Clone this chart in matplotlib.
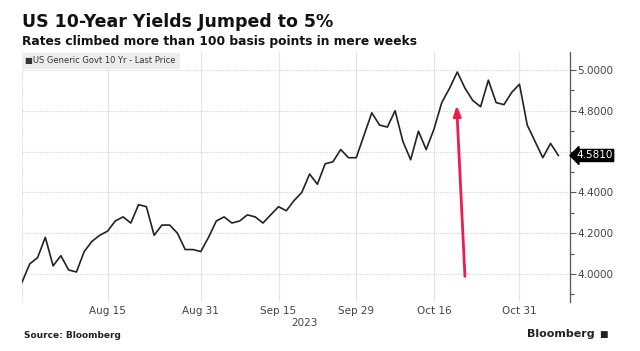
import matplotlib
matplotlib.use("Agg")
import matplotlib.pyplot as plt
from matplotlib.ticker import MultipleLocator, FixedLocator, FuncFormatter

# daily closes, trading days Jul 31 - Nov 7, 2023 (index positions)
yields = [3.96, 4.05, 4.08, 4.18, 4.04, 4.09, 4.02, 4.01, 4.11, 4.16,
          4.19, 4.21, 4.26, 4.28, 4.25, 4.34, 4.33, 4.19, 4.24, 4.24,
          4.20, 4.12, 4.12, 4.11, 4.18, 4.26, 4.28, 4.25, 4.26, 4.29,
          4.28, 4.25, 4.29, 4.33, 4.31, 4.36, 4.40, 4.49, 4.44, 4.54,
          4.55, 4.61, 4.57, 4.57, 4.68, 4.79, 4.73, 4.72, 4.80, 4.65,
          4.56, 4.70, 4.61, 4.71, 4.84, 4.91, 4.99, 4.91, 4.85, 4.82,
          4.95, 4.84, 4.83, 4.89, 4.93, 4.73, 4.65, 4.57, 4.64, 4.581]
tick_idx = [11, 23, 33, 43, 53, 64]
tick_labels = ["Aug 15", "Aug 31", "Sep 15", "Sep 29", "Oct 16", "Oct 31"]
last_value = 4.581

title = "US 10-Year Yields Jumped to 5%"
subtitle = "Rates climbed more than 100 basis points in mere weeks"
legend_label = "US Generic Govt 10 Yr - Last Price"

fig = plt.figure(figsize=(6.4, 3.51), dpi=100)
ax = fig.add_axes([22 / 640, 1 - 302 / 351, (570 - 22) / 640, 250 / 351])

x = list(range(len(yields)))
ax.plot(x, yields, color="#222222", lw=1.2, zorder=3)

ax.set_xlim(0, 70.5)
ax.set_ylim(3.863, 5.088)

# axes styling
for s in ["top", "left", "bottom"]:
    ax.spines[s].set_visible(False)
ax.spines["right"].set_color("#555555")
ax.spines["right"].set_linewidth(0.9)
ax.yaxis.tick_right()
ax.yaxis.set_major_locator(MultipleLocator(0.2))
ax.yaxis.set_minor_locator(MultipleLocator(0.1))
# the 4.6 label sits under the last-value tag
ax.yaxis.set_major_formatter(
    FuncFormatter(lambda v, p: "" if abs(v - 4.6) < 1e-6 else f"{v:.4f}"))
ax.tick_params(axis="y", which="major", length=4, width=0.8, color="#555555",
               labelsize=7.5, labelcolor="#444444", pad=1)
ax.tick_params(axis="y", which="minor", length=3, width=0.8, color="#555555")

ax.xaxis.set_major_locator(FixedLocator(tick_idx))
ax.set_xticklabels(tick_labels)
ax.tick_params(axis="x", length=0, labelsize=7.5, labelcolor="#444444", pad=3)
ax.text(36.3, -0.065, "2023", transform=ax.get_xaxis_transform(), ha="center",
        va="top", fontsize=7.5, color="#444444")

ax.grid(axis="x", color="#e4e4e4", lw=0.8)
ax.grid(axis="y", color="#d8d8d8", lw=0.8, ls=(0, (1, 1)))
ax.axvline(0, color="#d8d8d8", lw=0.8, ls=(0, (1, 1)))
ax.set_axisbelow(True)

# legend box
ax.text(0.006, 0.965, "\u25a0" + legend_label, transform=ax.transAxes,
        fontsize=6, color="#333333", va="center", ha="left", zorder=4,
        bbox=dict(boxstyle="square,pad=0.45", fc="#ececec", ec="none"))

# last value tag
ax.annotate(f"{last_value:.4f}", xy=(1.0, last_value),
            xycoords=ax.get_yaxis_transform(), xytext=(4.5, 0),
            textcoords="offset points", fontsize=7.5, color="white",
            va="center", ha="left", zorder=6, annotation_clip=False,
            bbox=dict(boxstyle="larrow,pad=0.1", fc="black", ec="black"))

# red arrow
ax.annotate("", xy=(55.9, 4.84), xytext=(57.0, 3.975),
            arrowprops=dict(arrowstyle="-|>,head_length=0.6,head_width=0.22",
                            color="#ee1c4e", lw=2.0), zorder=5)

fig.text(22 / 640, 1 - 22 / 351, title, fontsize=12.5, fontweight="bold",
         color="#111111", va="center", ha="left")
fig.text(22 / 640, 1 - 41 / 351, subtitle, fontsize=8.8, fontweight="bold",
         color="#111111", va="center", ha="left")
fig.text(24 / 640, 1 - 335 / 351, "Source: Bloomberg", fontsize=6.5,
         fontweight="bold", color="#222222", va="center", ha="left")
fig.text(595 / 640, 1 - 334 / 351, "Bloomberg", fontsize=8, fontweight="bold",
         color="#222222", va="center", ha="right")
fig.text(599 / 640, 1 - 334 / 351, "\u25a0", fontsize=6.5, color="#222222",
         va="center", ha="left")

fig.savefig("out.png", dpi=100, facecolor="white")
